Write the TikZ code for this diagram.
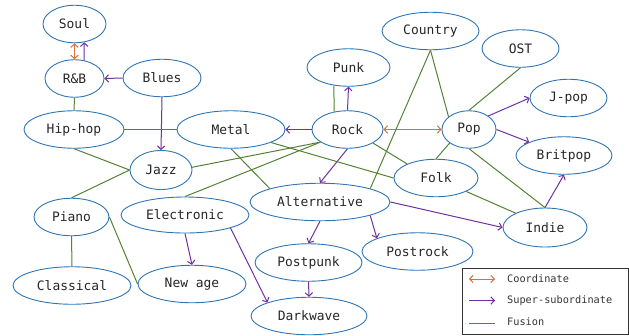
\documentclass[tikz,border=0pt]{standalone}
\usepackage{fontspec}
\setmonofont{DejaVu Sans Mono}
\usetikzlibrary{shapes.geometric,arrows.meta}
\definecolor{ellblue}{RGB}{46,117,182}
\definecolor{coordcol}{RGB}{222,110,50}
\definecolor{subcol}{RGB}{112,48,160}
\definecolor{fuscol}{RGB}{84,130,53}
\begin{document}
\begin{tikzpicture}[x=1bp,y=-1bp,
    genre/.style={ellipse,draw=ellblue,line width=0.9bp,inner sep=0pt,
      minimum height=37.5bp,minimum width=#1,text=black!85,
      font=\ttfamily\fontsize{13}{15}\selectfont},
    tip/.style={Straight Barb[length=3.5bp,width=7.5bp]},
    coordline/.style={coordcol,line width=1bp,{Straight Barb[length=3.5bp,width=7.5bp]}-{Straight Barb[length=3.5bp,width=7.5bp]}},
    subline/.style={subcol,line width=1bp,-{Straight Barb[length=3.5bp,width=7.5bp]}},
    fusline/.style={fuscol,line width=1bp},
    keytext/.style={anchor=west,inner sep=0pt,text=black!80,
      font=\ttfamily\fontsize{10.3}{12}\selectfont}]
    \useasboundingbox (0,0) rectangle (629,335);
    % genres
    \node[genre=63bp] (soul) at (74.5,24) {Soul};
    \node[genre=59bp] (rnb) at (74.5,78.5) {R\&B};
    \node[genre=78bp] (blues) at (162,78) {Blues};
    \node[genre=100bp] (hiphop) at (74,129.5) {Hip-hop};
    \node[genre=108bp] (metal) at (231,129.5) {Metal};
    \node[genre=62bp,minimum height=39bp] (jazz) at (161,170) {Jazz};
    \node[genre=71bp] (rock) at (347.5,129.5) {Rock};
    \node[genre=83bp] (punk) at (348.5,67.5) {Punk};
    \node[genre=97bp] (country) at (430.5,31) {Country};
    \node[genre=77bp] (ost) at (520.5,48.5) {OST};
    \node[genre=77bp] (jpop) at (568.5,98) {J-pop};
    \node[genre=54bp] (pop) at (469,129.5) {Pop};
    \node[genre=96bp] (britpop) at (564,155.5) {Britpop};
    \node[genre=84bp] (folk) at (436,178) {Folk};
    \node[genre=84bp,minimum height=39bp] (indie) at (545,227.5) {Indie};
    \node[genre=140bp] (alt) at (320,202) {Alternative};
    \node[genre=128bp,minimum height=36bp] (electronic) at (185,215) {Electronic};
    \node[genre=75bp] (piano) at (71.5,217) {Piano};
    \node[genre=118bp] (classical) at (72,285.5) {Classical};
    \node[genre=108bp] (newage) at (192,284) {New age};
    \node[genre=107bp] (postpunk) at (308.5,262.5) {Postpunk};
    \node[genre=116bp] (darkwave) at (309,316) {Darkwave};
    \node[genre=111bp] (postrock) at (417.5,251.5) {Postrock};
    % coordinate
    \draw[coordline] (soul.south) -- (rnb.north);
    \draw[coordline] (rock.east) -- (pop.west);
    % super-subordinate
    \draw[subline] (rnb.62) -- (soul.-62);
    \draw[subline] (blues.west) -- (rnb.east);
    \draw[subline] (blues.south) -- (jazz.north);
    \draw[subline] (rock.west) -- (metal.east);
    \draw[subline] (rock.north) -- (punk.south);
    \draw[subline] (rock.south) -- (alt.north);
    \draw[subline] (pop.35) -- (jpop.west);
    \draw[subline] (pop.east) -- (britpop.159);
    \draw[subline] (indie.north) -- (britpop.south);
    \draw[subline] (alt.east) -- (indie.west);
    \draw[subline] (alt.south) -- (postpunk.north);
    \draw[subline] (alt.-15) -- (postrock.162);
    \draw[subline] (postpunk.south) -- (darkwave.north);
    \draw[subline] (electronic.south) -- (newage.north);
    \draw[subline] (electronic.-16) -- (darkwave.162);
    % fusion
    \draw[fusline] (rnb.south) -- (hiphop.north);
    \draw[fusline] (hiphop.east) -- (metal.west);
    \draw[fusline] (hiphop.south) -- (jazz.west);
    \draw[fusline] (jazz.west) -- (piano.north);
    \draw[fusline] (jazz.5) -- (rock.205);
    \draw[fusline] (rock.205) -- (electronic.north);
    \draw[fusline] (rock.127) -- (punk.231);
    \draw[fusline] (metal.south) -- (alt.165);
    \draw[fusline] (metal.-18) -- (folk.west);
    \draw[fusline] (rock.-28) -- (folk.154);
    \draw[fusline] (country.south) -- (alt.15);
    \draw[fusline] (country.south) -- (pop.148);
    \draw[fusline] (ost.south) -- (pop.north);
    \draw[fusline] (pop.215) -- (folk.north);
    \draw[fusline] (pop.south) -- (indie.north);
    \draw[fusline] (folk.-24) -- (indie.154);
    \draw[fusline] (piano.south) -- (classical.north);
    \draw[fusline] (piano.east) -- (newage.west);
    % legend
    \node[draw=black!80,line width=0.8bp,minimum width=166bp,minimum height=66bp,inner sep=0pt] (legend) at (545,301) {};
    \coordinate (coa) at (469,279);
    \coordinate (cob) at (495,279);
    \coordinate (sua) at (469,300.5);
    \coordinate (sub) at (495,300.5);
    \coordinate (fua) at (469,323);
    \coordinate (fub) at (495,323);
    \draw[coordline] (coa) -- (cob);
    \draw[subline] (sua) -- (sub);
    \draw[fusline] (fua) -- (fub);
    \node[keytext] (cotext) at (507,279) {Coordinate};
    \node[keytext] (sutext) at (507,300.5) {Super-subordinate};
    \node[keytext] (futext) at (507,322) {Fusion};
  \end{tikzpicture}
\end{document}
